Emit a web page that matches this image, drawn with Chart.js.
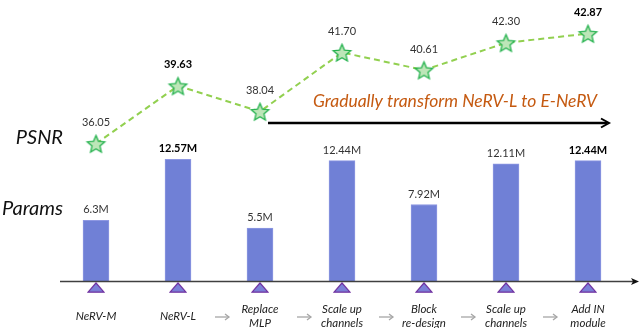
<!DOCTYPE html>
<html><head><meta charset="utf-8">
<script src="https://cdn.jsdelivr.net/npm/chart.js@4/dist/chart.umd.min.js"></script>
<style>html,body{margin:0;padding:0;background:#fff}#wrap{width:640px;height:328px}</style>
</head><body><div id="wrap"><canvas id="c" width="640" height="328"></canvas></div>
<script>
const categories = [['NeRV-M'],['NeRV-L'],['Replace','MLP'],['Scale up','channels'],['Block','re-design'],['Scale up','channels'],['Add IN','module']];
const psnr = [36.05, 39.63, 38.04, 41.70, 40.61, 42.30, 42.87];
const psnrLabels = ['36.05','39.63','38.04','41.70','40.61','42.30','42.87'];
const psnrBold = [false,true,false,false,false,false,true];
const params = [6.3, 12.57, 5.5, 12.44, 7.92, 12.11, 12.44];
const paramLabels = ['6.3M','12.57M','5.5M','12.44M','7.92M','12.11M','12.44M'];
const paramBold = [false,true,false,false,false,false,true];
const rowTitles = ['PSNR','Params'];
const stageNote = 'Gradually transform NeRV-L to E-NeRV';

const FONT = 'Lato, "Open Sans", sans-serif';
const TICK_LEVEL = -0.6; // marker row just below the baseline

function makeStar(R, r, fill, stroke){
  const s = Math.ceil(2*R+4);
  const c = document.createElement('canvas'); c.width = s; c.height = s;
  const g = c.getContext('2d');
  g.beginPath();
  for(let i=0;i<10;i++){
    const rad = i%2 ? r : R;
    const a = -Math.PI/2 + i*Math.PI/5;
    const px = s/2 + rad*Math.cos(a), py = s/2 + 1 + rad*Math.sin(a);
    if(i===0) g.moveTo(px,py); else g.lineTo(px,py);
  }
  g.closePath();
  g.fillStyle = fill; g.fill();
  g.lineWidth = 1.3; g.strokeStyle = stroke; g.stroke();
  return c;
}
function makeTri(w, h, fill, stroke){
  const c = document.createElement('canvas'); c.width = w; c.height = h;
  const g = c.getContext('2d');
  g.beginPath(); g.moveTo(1, h-0.8); g.lineTo(w-1, h-0.8); g.lineTo(w/2, 1); g.closePath();
  g.fillStyle = fill; g.fill(); g.lineWidth = 1.2; g.strokeStyle = stroke; g.stroke();
  return c;
}
const starImg = makeStar(9.2, 4.2, '#bde6b8', '#22b14c');
const triImg = makeTri(18, 11, '#7b80d8', '#7030a0');

const deco = {
  id: 'deco',
  afterDatasetDraw(chart, args){
    if(args.index !== 2) return;
    const ctx = chart.ctx, ca = chart.chartArea;
    const y0 = chart.scales.yB.getPixelForValue(0);
    ctx.save();
    ctx.strokeStyle = '#404040'; ctx.lineWidth = 1.6;
    ctx.beginPath(); ctx.moveTo(ca.left + 5, y0); ctx.lineTo(634, y0); ctx.stroke();
    ctx.fillStyle = '#111';
    ctx.beginPath(); ctx.moveTo(639, y0); ctx.lineTo(631, y0-3.5); ctx.lineTo(633, y0); ctx.lineTo(631, y0+3.5); ctx.closePath(); ctx.fill();
    ctx.restore();
  },
  afterDatasetsDraw(chart){
    const ctx = chart.ctx;
    const xs = chart.scales.x;
    ctx.save();
    ctx.textAlign = 'center'; ctx.textBaseline = 'middle';
    const m0 = chart.getDatasetMeta(0);
    m0.data.forEach((p, i) => {
      ctx.font = (psnrBold[i] ? 'bold ' : '') + '11px ' + FONT;
      ctx.fillStyle = psnrBold[i] ? '#000' : '#333';
      ctx.fillText(psnrLabels[i], p.x, p.y - 21);
    });
    const m2 = chart.getDatasetMeta(2);
    m2.data.forEach((b, i) => {
      ctx.font = (paramBold[i] ? 'bold ' : '') + '11px ' + FONT;
      ctx.fillStyle = paramBold[i] ? '#000' : '#333';
      ctx.fillText(paramLabels[i], b.x, b.y - 10.5);
    });
    ctx.textAlign = 'right'; ctx.fillStyle = '#111';
    ctx.font = 'italic 20px ' + FONT;
    ctx.fillText(rowTitles[0], 63, 138);
    ctx.fillText(rowTitles[1], 63, 209);
    const ay = 123;
    const ax0 = xs.getPixelForValue(2) + 8, ax1 = xs.getPixelForValue(6) + 21;
    ctx.strokeStyle = '#000'; ctx.lineWidth = 2.5;
    ctx.beginPath(); ctx.moveTo(ax0, ay); ctx.lineTo(ax1 - 2, ay); ctx.stroke();
    ctx.lineWidth = 2; ctx.lineJoin = 'miter';
    ctx.beginPath(); ctx.moveTo(ax1 - 8, ay - 4.5); ctx.lineTo(ax1, ay); ctx.lineTo(ax1 - 8, ay + 4.5); ctx.stroke();
    ctx.textAlign = 'center';
    ctx.font = 'italic 17.5px ' + FONT; ctx.fillStyle = '#c55a11';
    ctx.fillText(stageNote, 455, 101);
    ctx.strokeStyle = '#a6a6a6'; ctx.lineWidth = 1.3;
    for(let i=1;i<categories.length-1;i++){
      const mx = (xs.getPixelForValue(i) + xs.getPixelForValue(i+1))/2 + 3;
      const yy = 317;
      ctx.beginPath(); ctx.moveTo(mx-7, yy); ctx.lineTo(mx+7, yy); ctx.stroke();
      ctx.beginPath(); ctx.moveTo(mx+3, yy-3); ctx.lineTo(mx+7, yy); ctx.lineTo(mx+3, yy+3); ctx.stroke();
    }
    ctx.restore();
  }
};

new Chart(document.getElementById('c'), {
  data: {
    labels: categories,
    datasets: [
      { type:'line', label:'PSNR', data: psnr, yAxisID:'yP', borderColor:'#92d050', borderWidth:2, borderDash:[6,4],
        pointStyle: starImg, pointRadius: 9, order: 0, fill:false, tension:0 },
      { type:'line', label:'ticks', data: categories.map(() => TICK_LEVEL), yAxisID:'yB', showLine:false,
        pointStyle: triImg, pointRadius: 9, order: 1 },
      { type:'bar', label:'Params', data: params, yAxisID:'yB', backgroundColor:'#7080d6', borderColor:'#8e98e2', borderWidth:1,
        barThickness: 26, order: 3 }
    ]
  },
  options: {
    responsive:false, animation:false, devicePixelRatio:1,
    layout:{ padding:{ left:55, right:7, top:0, bottom:0 } },
    plugins:{ legend:{display:false}, tooltip:{enabled:false} },
    scales:{
      x:{ grid:{display:false}, border:{display:false},
          afterFit(scale){ scale.height = 32; },
          ticks:{ font:{family:FONT, size:11.5, style:'italic', lineHeight:1.22}, color:'#222', padding:5,
                  crossAlign:'center', autoSkip:false, maxRotation:0 } },
      yB:{ display:false, min:-1.485, max:27.82 },
      yP:{ display:false, min:26.61, max:44.27 }
    }
  },
  plugins:[deco]
});
</script>
</body></html>
